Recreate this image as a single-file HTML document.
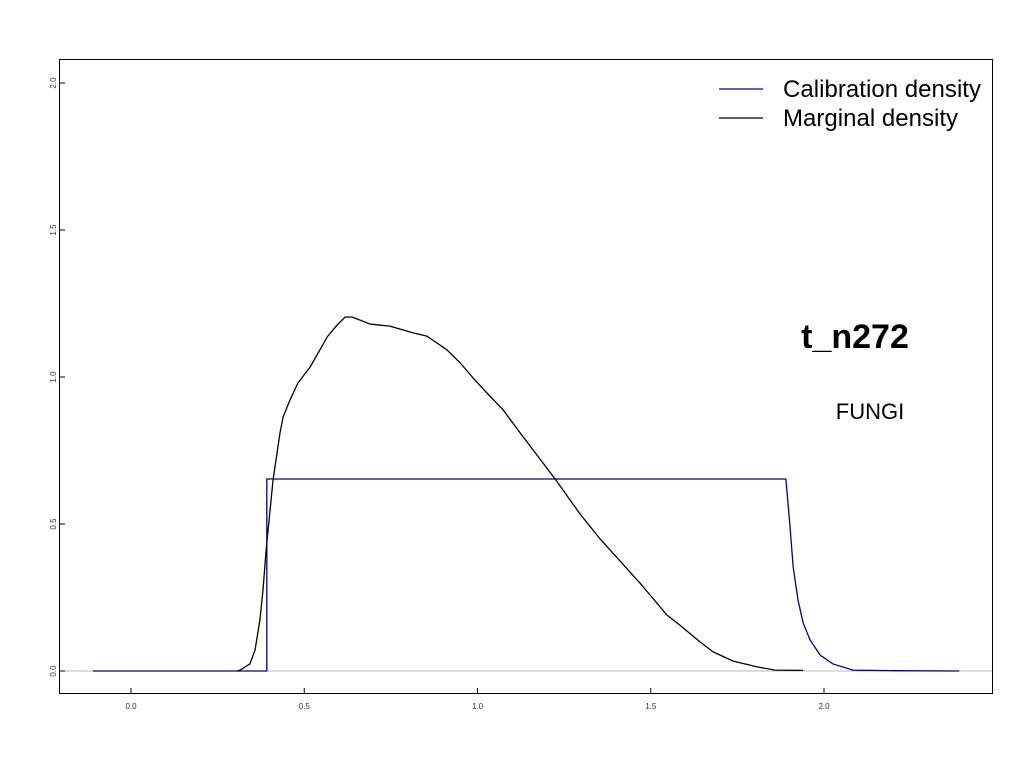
<!DOCTYPE html>
<html><head><meta charset="utf-8"><style>
html,body{margin:0;padding:0;background:#fff;}
svg{display:block;font-family:"Liberation Sans",sans-serif;}
</style></head><body>
<svg id="chart" width="1024" height="768"></svg>
<script>
const xTicks=[0.0,0.5,1.0,1.5,2.0];
const xTickLabels=["0.0","0.5","1.0","1.5","2.0"];
const yTicks=[0.0,0.5,1.0,1.5,2.0];
const yTickLabels=["0.0","0.5","1.0","1.5","2.0"];
const margX=[0.306,0.315,0.343,0.358,0.372,0.381,0.390,0.410,0.430,0.439,0.459,0.482,0.517,0.545,0.566,0.595,0.618,0.638,0.690,0.747,0.814,0.854,0.912,0.950,0.987,1.027,1.074,1.123,1.224,1.296,1.354,1.469,1.547,1.584,1.642,1.680,1.737,1.807,1.859,1.940];
const margY=[0,0.003,0.024,0.071,0.173,0.276,0.412,0.650,0.810,0.864,0.922,0.980,1.034,1.092,1.136,1.177,1.204,1.204,1.180,1.173,1.150,1.139,1.092,1.048,0.997,0.946,0.888,0.810,0.653,0.534,0.449,0.299,0.190,0.156,0.099,0.065,0.034,0.014,0.003,0.002];
const calX=[-0.11,0.392,0.392,1.890,1.902,1.911,1.925,1.940,1.960,1.989,2.026,2.084,2.2,2.39];
const calY=[0,0,0.653,0.653,0.490,0.354,0.241,0.163,0.105,0.054,0.024,0.003,0.001,0];
const NS="http://www.w3.org/2000/svg";
const svg=document.getElementById('chart');
const sx=v=>131+v*346.5;
const sy=v=>671-v*294;
function mk(t,a,p){const e=document.createElementNS(NS,t);for(const k in a)e.setAttribute(k,a[k]);(p||svg).appendChild(e);return e;}
let e;
e=mk('line',{x1:59,x2:993,y1:671,y2:671,stroke:'#bbb','stroke-width':1});


e=mk('rect',{x:59.5,y:59.5,width:933,height:634,fill:'none',stroke:'#000','stroke-width':1});


xTicks.forEach((v,i)=>{
 e=mk('line',{x1:sx(v),x2:sx(v),y1:688,y2:694,stroke:'#000'});
 
 
 e=mk('text',{x:sx(v),y:709,'font-size':8,'text-anchor':'middle',fill:'#333'});
 e.textContent=xTickLabels[i];
 
 
});
yTicks.forEach((v,i)=>{
 e=mk('line',{x1:59,x2:65,y1:sy(v),y2:sy(v),stroke:'#000'});
 
 
 e=mk('text',{x:0,y:0,'font-size':8,'text-anchor':'middle',fill:'#333',transform:`translate(56,${sy(v)}) rotate(-90)`});
 e.textContent=yTickLabels[i];
 
 
});
e=mk('polyline',{points:calX.map((x,i)=>sx(x)+','+sy(calY[i])).join(' '),fill:'none',stroke:'#00008b','stroke-width':1.3});


e=mk('polyline',{points:margX.map((x,i)=>sx(x)+','+sy(margY[i])).join(' '),fill:'none',stroke:'#000','stroke-width':1.3,'stroke-linejoin':'round'});


e=mk('line',{x1:719,x2:763,y1:89,y2:89,stroke:'#00008b','stroke-width':1.3});


e=mk('text',{x:783,y:97,'font-size':24,textLength:198});
e.textContent='Calibration density';


e=mk('line',{x1:719,x2:763,y1:118,y2:118,stroke:'#000','stroke-width':1.3});


e=mk('text',{x:783,y:126,'font-size':24,textLength:175});
e.textContent='Marginal density';


e=mk('text',{x:855,y:348,'font-size':34,'font-weight':'bold','text-anchor':'middle'});
e.textContent='t_n272';


e=mk('text',{x:870,y:419,'font-size':22,'text-anchor':'middle'});
e.textContent='FUNGI';


</script>
</body></html>
